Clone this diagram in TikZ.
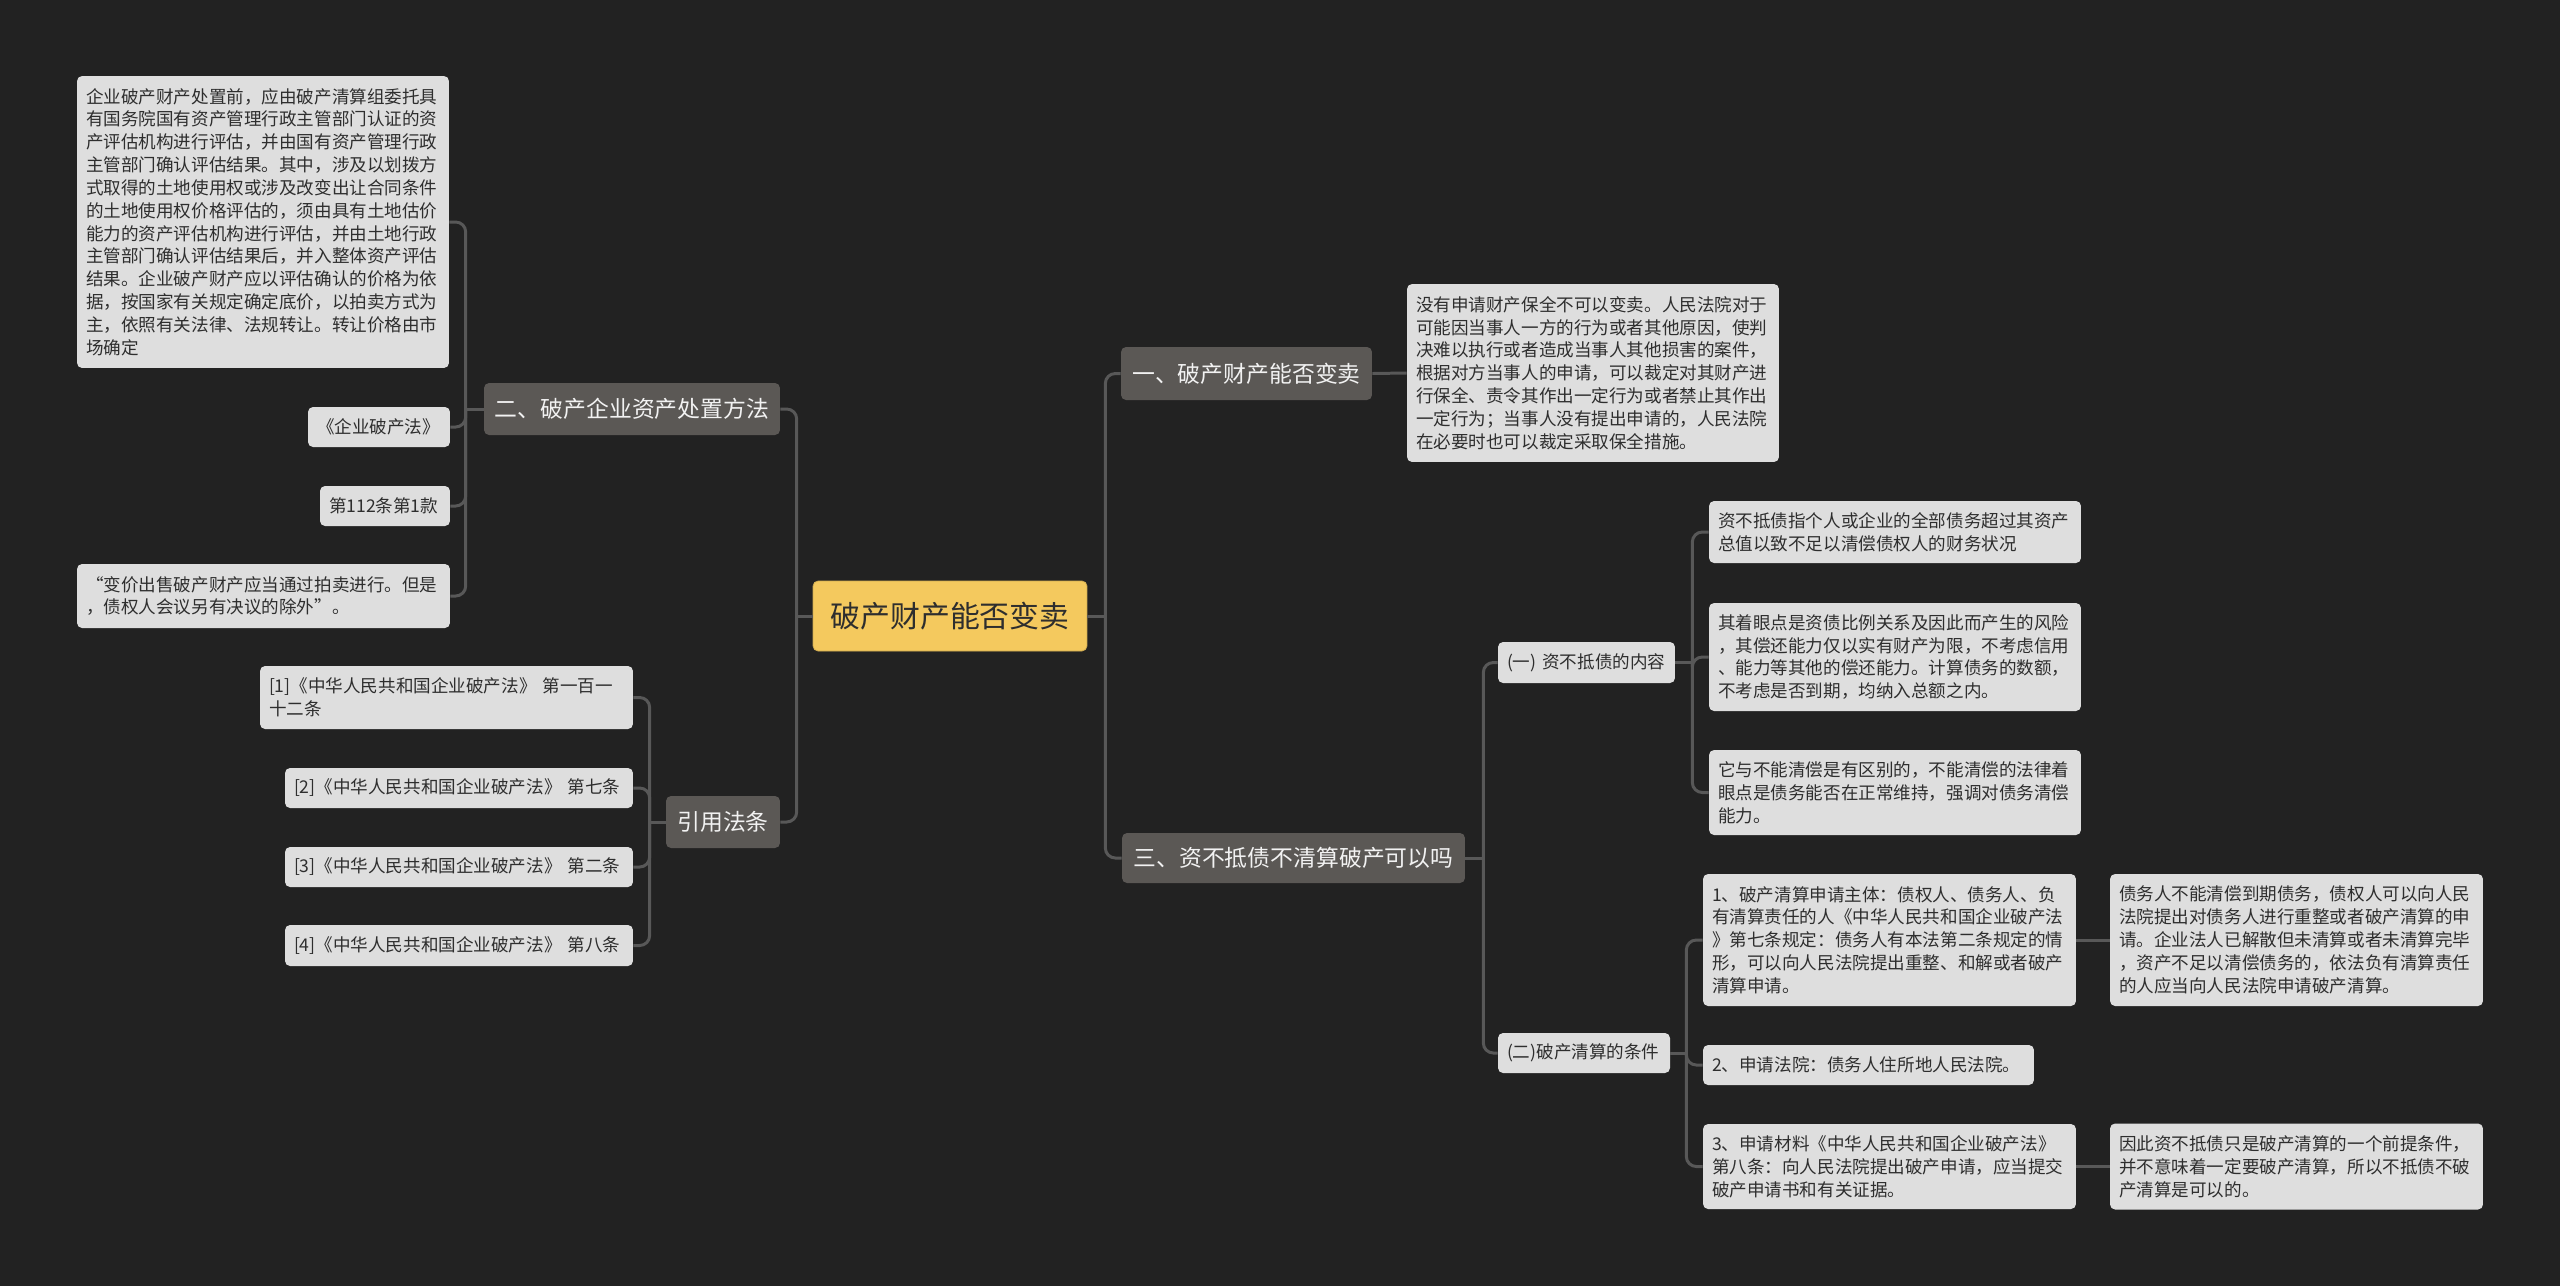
\documentclass[tikz,border=0pt]{standalone}
\usepackage{fontspec}
\usepackage{xcolor}
\usepackage{tikz}
\usetikzlibrary{calc}
\newfontfamily\cjk{Noto Sans CJK SC}
\definecolor{bg}{HTML}{222222}
\definecolor{wire}{HTML}{585858}
\definecolor{rootbg}{HTML}{F4C95E}
\definecolor{branchbg}{HTML}{5B5855}
\definecolor{leafbg}{HTML}{DEDEDE}
\definecolor{dark}{HTML}{2E2E2E}
\definecolor{light}{HTML}{F2F2F2}
\tikzset{
  link/.style={draw=wire, line width=1.7pt, rounded corners=0.2cm},
  rootbox/.style={fill=rootbg, draw=rootbg!85!black, line width=0.4pt, rounded corners=0.1cm, text=dark,
    font=\cjk\fontsize{17}{20}\selectfont, inner sep=0pt},
  branch/.style={fill=branchbg, rounded corners=0.1cm, text=light,
    font=\cjk\fontsize{13}{16}\selectfont, inner sep=0pt},
  leaf/.style={fill=leafbg, rounded corners=0.1cm, text=dark, align=left,
    font=\cjk\fontsize{10}{13}\selectfont, inner xsep=0.18cm, inner ysep=0.08cm}
}

\begin{document}
\begin{tikzpicture}[x=0.02cm,y=-0.02cm]
  \fill[bg] (0,0) rectangle (2560,1286);
  \useasboundingbox (0,0) rectangle (2560,1286);

  % centre and main branches
  \node[rootbox, minimum width=5.48cm, minimum height=1.4cm] (root) at (950,616) {破产财产能否变卖};
  \node[branch, minimum width=5.02cm, minimum height=1.06cm] (yi) at (1246.5,373.5) {一、破产财产能否变卖};
  \node[branch, minimum width=6.86cm, minimum height=1.0cm] (san) at (1293.5,858) {三、资不抵债不清算破产可以吗};
  \node[branch, minimum width=5.92cm, minimum height=1.04cm] (er) at (632,409) {二、破产企业资产处置方法};
  \node[branch, minimum width=2.28cm, minimum height=1.04cm] (cite) at (723,822) {引用法条};

  % left side
  \node[leaf, text width=7.08cm, minimum height=5.84cm] (big) at (263,222) {企业破产财产处置前，应由破产清算组委托具\\
有国务院国有资产管理行政主管部门认证的资\\
产评估机构进行评估，并由国有资产管理行政\\
主管部门确认评估结果。其中，涉及以划拨方\\
式取得的土地使用权或涉及改变出让合同条件\\
的土地使用权价格评估的，须由具有土地估价\\
能力的资产评估机构进行评估，并由土地行政\\
主管部门确认评估结果后，并入整体资产评估\\
结果。企业破产财产应以评估确认的价格为依\\
据，按国家有关规定确定底价，以拍卖方式为\\
主，依照有关法律、法规转让。转让价格由市\\
场确定};
  \node[leaf, text width=2.48cm, minimum height=0.8cm] (law) at (379,427) {《企业破产法》};
  \node[leaf, text width=2.24cm, minimum height=0.8cm] (art) at (385,506) {第112条第1款};
  \node[leaf, text width=7.10cm, minimum height=1.28cm] (sale) at (263.5,596) {“变价出售破产财产应当通过拍卖进行。但是\\
，债权人会议另有决议的除外”。};
  \node[leaf, text width=7.10cm, minimum height=1.26cm] (ref1) at (446.5,697.5) {[1]《中华人民共和国企业破产法》 第一百一\\
十二条};
  \node[leaf, text width=6.60cm, minimum height=0.8cm] (ref2) at (459,788) {[2]《中华人民共和国企业破产法》 第七条};
  \node[leaf, text width=6.60cm, minimum height=0.8cm] (ref3) at (459,867) {[3]《中华人民共和国企业破产法》 第二条};
  \node[leaf, text width=6.60cm, minimum height=0.82cm] (ref4) at (459,945.5) {[4]《中华人民共和国企业破产法》 第八条};

  % right side
  \node[leaf, text width=7.08cm, minimum height=3.56cm] (keep) at (1593,373) {没有申请财产保全不可以变卖。人民法院对于\\
可能因当事人一方的行为或者其他原因，使判\\
决难以执行或者造成当事人其他损害的案件，\\
根据对方当事人的申请，可以裁定对其财产进\\
行保全、责令其作出一定行为或者禁止其作出\\
一定行为；当事人没有提出申请的，人民法院\\
在必要时也可以裁定采取保全措施。};
  \node[leaf, text width=3.18cm, minimum height=0.82cm] (debt) at (1586.5,662.5) {(一) 资不抵债的内容};
  \node[leaf, text width=7.08cm, minimum height=1.24cm] (debta) at (1895,532) {资不抵债指个人或企业的全部债务超过其资产\\
总值以致不足以清偿债权人的财务状况};
  \node[leaf, text width=7.08cm, minimum height=2.16cm] (debtb) at (1895,657) {其着眼点是资债比例关系及因此而产生的风险\\
，其偿还能力仅以实有财产为限，不考虑信用\\
、能力等其他的偿还能力。计算债务的数额，\\
不考虑是否到期，均纳入总额之内。};
  \node[leaf, text width=7.08cm, minimum height=1.7cm] (debtc) at (1895,792.5) {它与不能清偿是有区别的，不能清偿的法律着\\
眼点是债务能否在正常维持，强调对债务清偿\\
能力。};
  \node[leaf, text width=3.08cm, minimum height=0.8cm] (cond) at (1584,1053) {(二)破产清算的条件};
  \node[leaf, text width=7.10cm, minimum height=2.64cm] (conda) at (1889.5,940) {1、破产清算申请主体：债权人、债务人、负\\
有清算责任的人《中华人民共和国企业破产法\\
》第七条规定：债务人有本法第二条规定的情\\
形，可以向人民法院提出重整、和解或者破产\\
清算申请。};
  \node[leaf, text width=6.26cm, minimum height=0.8cm] (condb) at (1868.5,1065) {2、申请法院：债务人住所地人民法院。};
  \node[leaf, text width=7.10cm, minimum height=1.7cm] (condc) at (1889.5,1166.5) {3、申请材料《中华人民共和国企业破产法》\\
第八条：向人民法院提出破产申请，应当提交\\
破产申请书和有关证据。};
  \node[leaf, text width=7.10cm, minimum height=2.64cm] (condx) at (2296.5,940) {债务人不能清偿到期债务，债权人可以向人民\\
法院提出对债务人进行重整或者破产清算的申\\
请。企业法人已解散但未清算或者未清算完毕\\
，资产不足以清偿债务的，依法负有清算责任\\
的人应当向人民法院申请破产清算。};
  \node[leaf, text width=7.10cm, minimum height=1.72cm] (condy) at (2296.5,1166.5) {因此资不抵债只是破产清算的一个前提条件，\\
并不意味着一定要破产清算，所以不抵债不破\\
产清算是可以的。};

  % connectors
  \draw[link] (root.east) -- ++(18,0) coordinate (rj);
  \draw[link] (root.west) -- ++(-16,0) coordinate (lj);
  \foreach \n in {yi,san} \draw[link] (rj) |- (\n.west);
  \foreach \n in {er,cite} \draw[link] (lj) |- (\n.east);
  \draw[link] (er.west) -- ++(-18,0) coordinate (ej);
  \foreach \n in {big,law,art,sale} \draw[link] (ej) |- (\n.east);
  \draw[link] (cite.west) -- ++(-16,0) coordinate (cj);
  \foreach \n in {ref1,ref2,ref3,ref4} \draw[link] (cj) |- (\n.east);
  \draw[link] (yi.east) -- (keep.west);
  \draw[link] (san.east) -- ++(18,0) coordinate (sj);
  \foreach \n in {debt,cond} \draw[link] (sj) |- (\n.west);
  \draw[link] (debt.east) -- ++(17,0) coordinate (dj);
  \foreach \n in {debta,debtb,debtc} \draw[link] (dj) |- (\n.west);
  \draw[link] (cond.east) -- ++(16,0) coordinate (kj);
  \foreach \n in {conda,condb,condc} \draw[link] (kj) |- (\n.west);
  \draw[link] (conda.east) -- (condx.west);
  \draw[link] (condc.east) -- (condy.west);
\end{tikzpicture}
\end{document}
